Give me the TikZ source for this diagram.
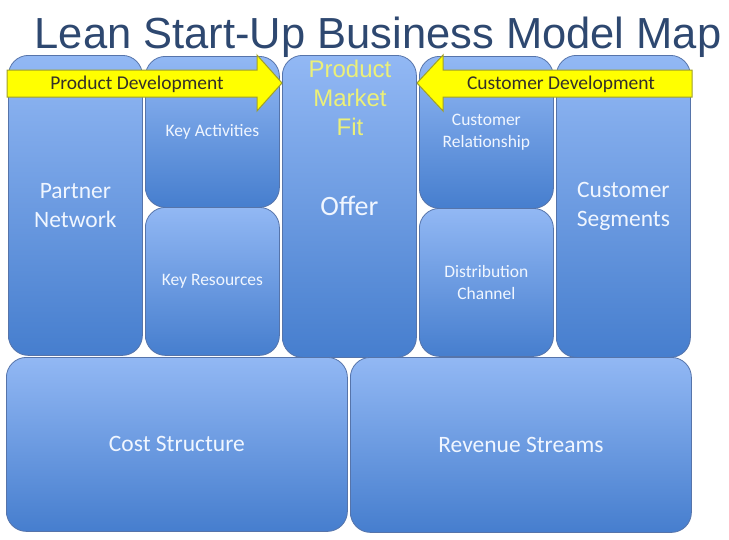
\documentclass[tikz,border=0pt]{standalone}
\usepackage{fontspec}
\setmainfont{Carlito}
\newfontfamily\arialfont{Liberation Sans}
\usepackage{xcolor}
\usepackage{tikz}
\usetikzlibrary{positioning}
\definecolor{titleblue}{RGB}{46,72,112}
\definecolor{boxtop}{RGB}{146,184,244}
\definecolor{boxbottom}{RGB}{70,126,206}
\definecolor{boxline}{RGB}{86,116,170}
\definecolor{arrowfill}{RGB}{255,255,0}
\definecolor{arrowline}{RGB}{160,160,40}
\definecolor{fittext}{RGB}{236,240,120}
\definecolor{boxtext}{RGB}{240,246,255}

\begin{document}
\begin{tikzpicture}[x=1pt, y=-1pt,
  block/.style={draw=boxline, line width=0.8pt, rounded corners=20pt,
    top color=boxtop, bottom color=boxbottom, anchor=north west,
    inner sep=2pt, text=boxtext, align=center},
  small/.style={font=\fontsize{17.5}{22}\selectfont},
  big/.style={font=\fontsize{23.5}{29}\selectfont},
  devarrow/.style={draw=arrowline, fill=arrowfill, line width=1pt},
  devlbl/.style={font=\fontsize{19.5}{20}\selectfont, text=black!85!olive}
]
  \useasboundingbox (0,0) rectangle (729,539);
  \node[font=\arialfont\fontsize{43.5}{45}\selectfont, text=titleblue, anchor=base]
    (title) at (378,48) {Lean Start-Up Business Model Map};

  \node[block, big, minimum width=134pt, minimum height=300pt] (partner) at (8,55) {Partner\\Network};
  \node[block, small, minimum width=134pt, minimum height=151pt] (keyact) at (145,56) {Key Activities};
  \node[block, small, minimum width=134pt, minimum height=148pt] (keyres) at (145,207) {Key Resources};
  \node[block, font=\fontsize{28}{29}\selectfont, minimum width=134pt, minimum height=302pt] (offer) at (282,55) {Offer};
  \node[block, small, minimum width=134pt, minimum height=152pt] (custrel) at (419,56) {Customer\\Relationship};
  \node[block, small, minimum width=134pt, minimum height=148pt] (distrib) at (419,208) {Distribution\\Channel};
  \node[block, big, minimum width=134pt, minimum height=302pt] (custseg) at (556,55) {Customer\\Segments};
  \node[block, big, minimum width=341pt, minimum height=174pt] (cost) at (6,357) {Cost Structure};
  \node[block, big, minimum width=341pt, minimum height=175pt] (revenue) at (350,357) {Revenue Streams};

  \node[font=\arialfont\fontsize{24}{29}\selectfont, text=fittext, align=center]
    (fit) at (350,98) {Product\\Market\\Fit};

  \draw[devarrow] (7,70) -- (257,70) -- (257,55) -- (282,83) -- (257,111) -- (257,97) -- (7,97) -- cycle;
  \node[devlbl] (proddev) at (137,84) {Product Development};
  \draw[devarrow] (692,70) -- (443,70) -- (443,55) -- (417,83) -- (443,111) -- (443,97) -- (692,97) -- cycle;
  \node[devlbl] (custdev) at (561,84) {Customer Development};
\end{tikzpicture}
\end{document}
